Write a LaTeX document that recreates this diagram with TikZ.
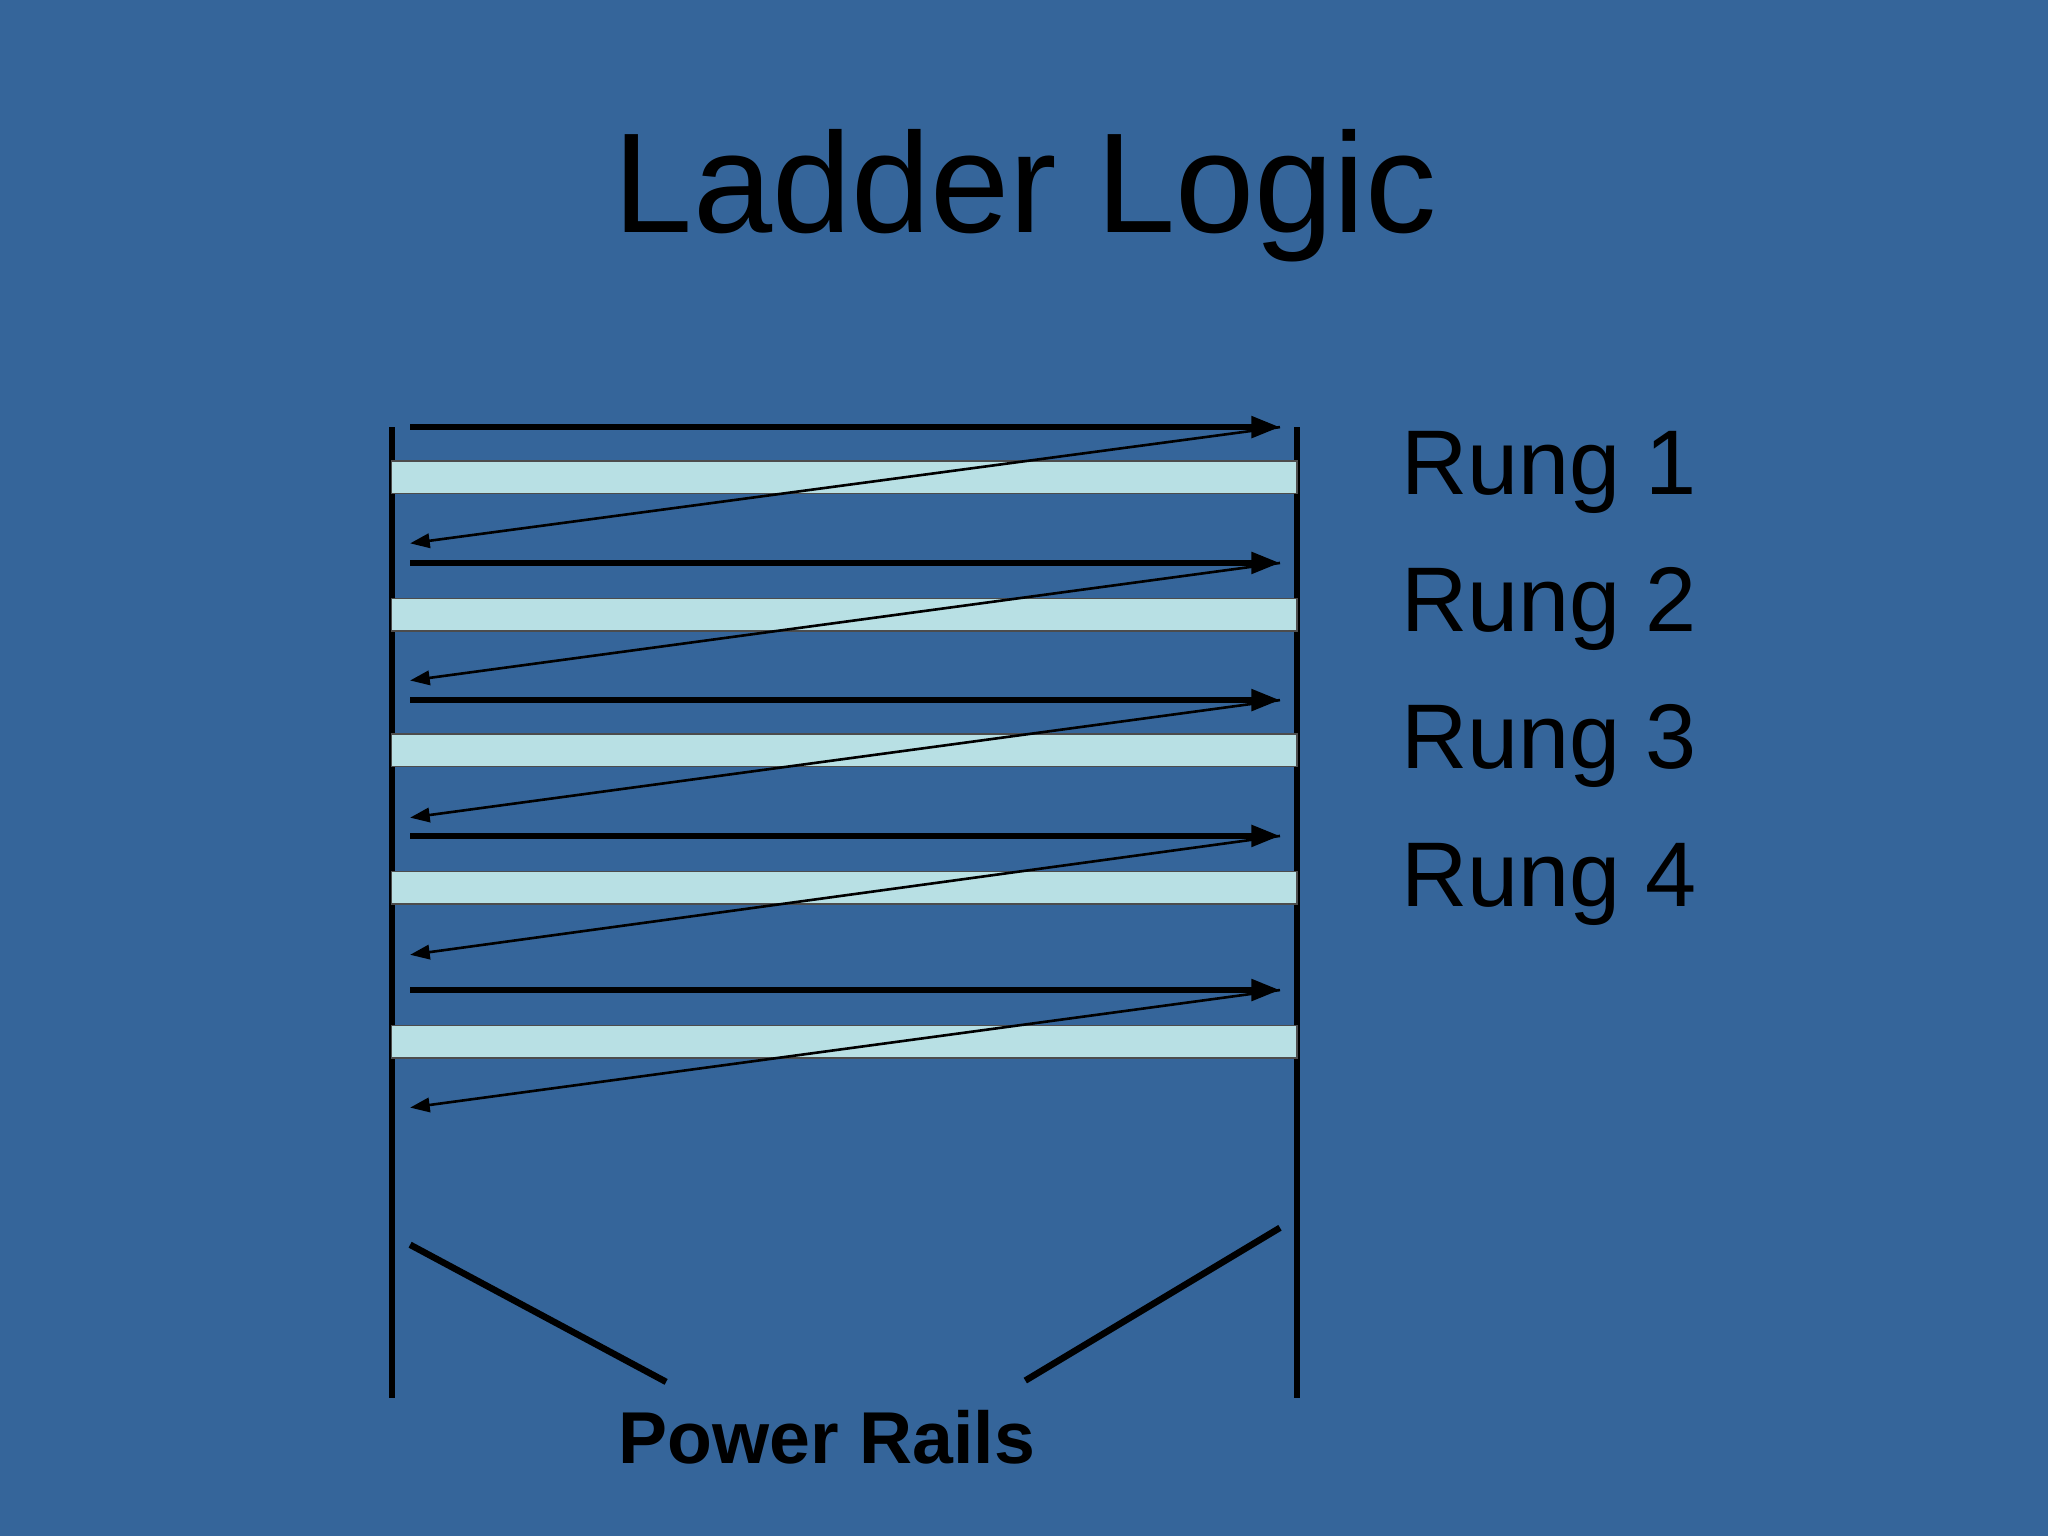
\documentclass[tikz,border=0pt]{standalone}
\usepackage{fontspec}
\setmainfont{Liberation Sans}
\usetikzlibrary{arrows.meta}
\definecolor{slidebg}{HTML}{35659A}
\definecolor{rungfill}{HTML}{B8E0E4}
\tikzset{
  rail/.style={line width=0.5mm, black},
  rung/.style={fill=rungfill, draw=black!70, line width=0.1mm},
  scanfwd/.style={line width=0.45mm, -{Triangle[length=2.2mm, width=1.6mm]}},
  scanback/.style={line width=0.2mm, -{Triangle[length=1.5mm, width=1.1mm]}},
}
\begin{document}
\begin{tikzpicture}[x=0.1mm, y=-0.1mm]
    % background
    \fill[slidebg] (0,0) rectangle (1568,1176);
    \useasboundingbox (0,0) rectangle (1568,1176);

    % title
    \node (title) at (785,150) {\fontsize{31}{36}\selectfont Ladder Logic};

    % power rails
    \coordinate (lt) at (300,327); \coordinate (lb) at (300,1070);
    \coordinate (rt) at (993,327); \coordinate (rb) at (993,1070);
    \draw[rail] (lt) -- (lb);
    \draw[rail] (rt) -- (rb);

    % rungs
    \foreach \y in {353,458,562,667,785}
        \draw[rung] (300,\y) rectangle (993,\y+25);

    % scan arrows
    \foreach \y/\z [count=\i] in {327/416,431/521,536/626,640/731,758/848} {
        \coordinate (s\i) at (314,\y);
        \coordinate (e\i) at (980,\y);
        \coordinate (b\i) at (314,\z);
        \draw[scanfwd] (s\i) -- (e\i);
        \draw[scanback] (e\i) -- (b\i);
    }

    % rung labels
    \foreach \y [count=\i] in {362,466,571,677}
        \node[anchor=west, inner sep=0pt] (rung\i) at (1072,\y) {\fontsize{20}{24}\selectfont Rung \i};

    % power rails label
    \node (rails) at (633,1100) {\fontsize{16}{19}\selectfont\bfseries Power Rails};
    \coordinate (pl1) at (314,953); \coordinate (pl2) at (510,1058);
    \coordinate (pr1) at (980,940); \coordinate (pr2) at (785,1057);
    \draw[rail] (pl1) -- (pl2);
    \draw[rail] (pr1) -- (pr2);
\end{tikzpicture}
\end{document}
